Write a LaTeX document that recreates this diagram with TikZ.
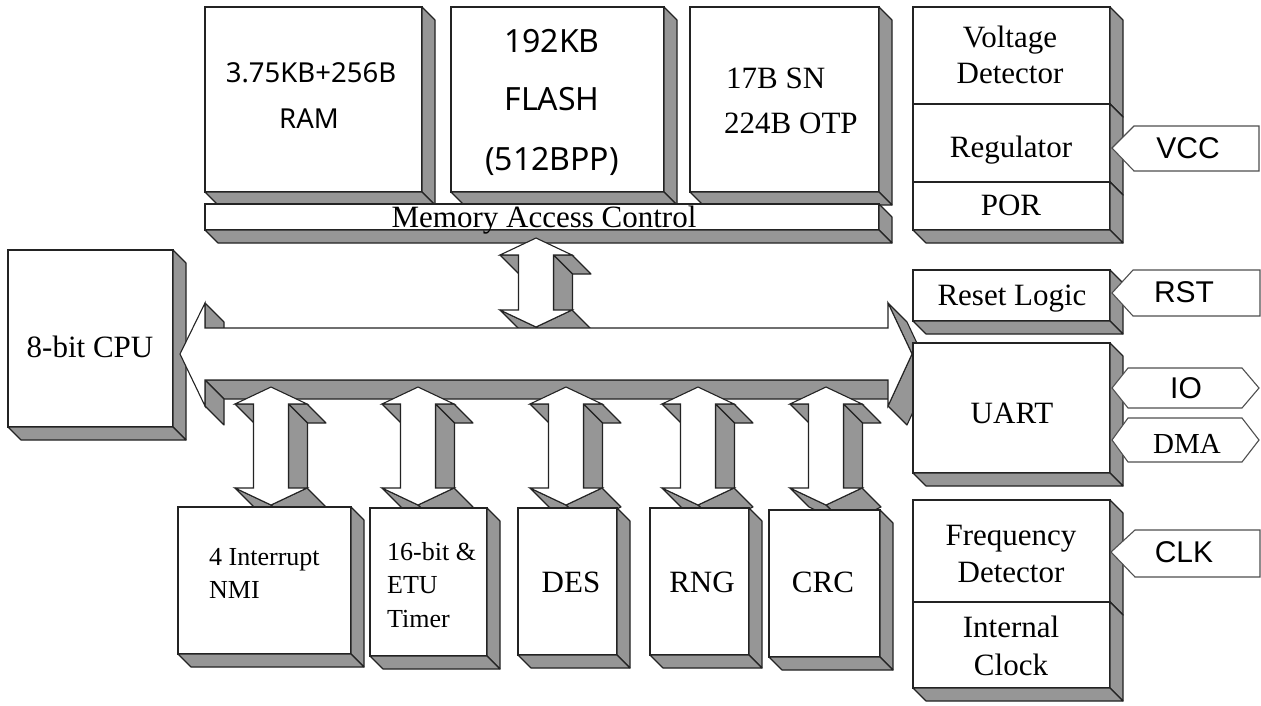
\documentclass[tikz,border=0pt]{standalone}
\usepackage{fontspec}
\setmainfont{Liberation Serif}
\newfontfamily\tagsans{Liberation Sans}
\newfontfamily\memsans{Noto Sans}
\definecolor{shd}{RGB}{150,150,150}
\definecolor{edgec}{RGB}{35,35,35}
\def\bd{13}
\def\dep{19}
\tikzset{
  blk/.style={draw=edgec, line width=1.1pt, fill=white, inner sep=0pt, outer sep=0pt, anchor=north west},
  sideface/.style={draw=edgec, line width=1.1pt, fill=shd, line join=round},
  frontface/.style={draw=edgec, line width=1.1pt, fill=white, line join=miter},
  tagline/.style={draw=edgec!80, line width=1.1pt, fill=white},
  lbl/.style={inner sep=0pt, anchor=base, font=\fontsize{31}{36}\selectfont},
  lbls/.style={inner sep=0pt, anchor=base west, font=\fontsize{26}{30}\selectfont},
  tagtxt/.style={inner sep=0pt, anchor=base, font=\tagsans\fontsize{30}{34}\selectfont},
  memtxt/.style={inner sep=0pt, anchor=base, font=\memsans\fontsize{27.5}{32}\selectfont},
  flashtxt/.style={inner sep=0pt, anchor=base, font=\memsans\fontsize{32}{36}\selectfont},
}
% 3D block: name, x1, y1, x2, y2 (screen pixels)
\newcommand\blockbox[5]{%
  \node[blk, minimum width={#4-#2}, minimum height={#5-#3}] (#1) at (#2,#3) {};
  \filldraw[sideface] (#1.north east) -- ([shift={(\bd,\bd)}]#1.north east) -- ([shift={(\bd,\bd)}]#1.south east) -- (#1.south east) -- cycle;
  \filldraw[sideface] (#1.south west) -- (#1.south east) -- ([shift={(\bd,\bd)}]#1.south east) -- ([shift={(\bd,\bd)}]#1.south west) -- cycle;
}
% extruded side faces of a polygon listed clockwise on screen
\newcommand\sidefaces[3]{%
  \foreach \xx/\yy [remember=\xx as \px (initially #1), remember=\yy as \py (initially #2)] in {#3}{%
    \pgfmathsetmacro\fr{((\yy)-(\py))-((\xx)-(\px))}%
    \ifdim\fr pt>0.01pt
      \filldraw[sideface] (\px,\py) -- (\xx,\yy) -- (\xx+\dep,\yy+\dep) -- (\px+\dep,\py+\dep) -- cycle;
    \fi
  }%
}
\newcommand\vdarrow[3]{%
  \sidefaces{#1}{#2}{#1+36/#2+17,#1+17.5/#2+17,#1+17.5/#3-17,#1+36/#3-17,#1/#3,#1-36/#3-17,#1-17.5/#3-17,#1-17.5/#2+17,#1-36/#2+17,#1/#2}%
  \filldraw[frontface] (#1,#2) -- (#1+36,#2+17) -- (#1+17.5,#2+17) -- (#1+17.5,#3-17) -- (#1+36,#3-17) -- (#1,#3) -- (#1-36,#3-17) -- (#1-17.5,#3-17) -- (#1-17.5,#2+17) -- (#1-36,#2+17) -- cycle;
}
\begin{document}
\begin{tikzpicture}[x=1pt,y=-1pt]
\useasboundingbox (0,0) rectangle (1261,705);
\fill[white] (0,0) rectangle (1261,705);

% top memory blocks
\blockbox{ram}{205}{7}{422}{192}
\blockbox{flash}{451}{7}{664}{192}
\blockbox{otp}{690}{7}{879}{192}
\blockbox{macbar}{205}{204}{879}{230}

% right column top
\blockbox{volt}{913}{7}{1110}{104}
\blockbox{reg}{913}{104}{1110}{182}
\blockbox{por}{913}{182}{1110}{230}

% CPU
\blockbox{cpu}{8}{250}{173}{427}

% memory arrow
\vdarrow{536}{238}{327}

% bus
\sidefaces{888}{380}{205/380,205/406,180/354,205/303,205/328,888/328,888/303,912/354,888/406,888/380}
\filldraw[frontface] (180,354) -- (205,303) -- (205,328) -- (888,328) -- (888,303) -- (912,354) -- (888,406) -- (888,380) -- (205,380) -- (205,406) -- cycle;

% right column lower
\blockbox{rstl}{913}{270}{1110}{321}
\blockbox{uart}{913}{343}{1110}{473}
\blockbox{freq}{913}{500}{1110}{602}
\blockbox{iclk}{913}{602}{1110}{688}

% bottom arrows
\vdarrow{271}{387}{505}
\vdarrow{418}{387}{505}
\vdarrow{566}{387}{505}
\vdarrow{698}{387}{505}
\vdarrow{826}{387}{505}

% bottom blocks
\blockbox{intr}{178}{507}{351}{654}
\blockbox{timer}{370}{508}{487}{656}
\blockbox{des}{518}{508}{617}{655}
\blockbox{rng}{650}{508}{749}{655}
\blockbox{crc}{769}{510}{880}{657}

% pin tags
\draw[tagline] (1112,148) -- (1134,126) -- (1259,126) -- (1259,171) -- (1134,171) -- cycle;
\draw[tagline] (1112,293) -- (1133,270) -- (1260,270) -- (1260,316) -- (1133,316) -- cycle;
\draw[tagline] (1112,388) -- (1128,368) -- (1242,368) -- (1259,388) -- (1242,408) -- (1128,408) -- cycle;
\draw[tagline] (1112,440) -- (1128,418) -- (1242,418) -- (1259,440) -- (1242,462) -- (1128,462) -- cycle;
\draw[tagline] (1111,552) -- (1135,530) -- (1260,530) -- (1260,577) -- (1135,577) -- cycle;

% texts
\node[memtxt] (ramA) at (311,82) {3.75KB+256B};
\node[memtxt] (ramB) at (309,128) {RAM};
\node[flashtxt] (flA) at (552,52) {192KB};
\node[flashtxt] (flB) at (552,110) {FLASH};
\node[flashtxt] (flC) at (552,170) {(512BPP)};
\node[lbl, anchor=base west] (otpA) at (726,88) {17B SN};
\node[lbl, anchor=base west] (otpB) at (724,133) {224B OTP};
\node[lbl] (macT) at (544,227) {Memory Access Control};
\node[lbl] (voltA) at (1010,47) {Voltage};
\node[lbl] (voltB) at (1010,83) {Detector};
\node[lbl] (regT) at (1011,157) {Regulator};
\node[lbl] (porT) at (1011,215) {POR};
\node[lbl] (cpuT) at (90,357) {8-bit CPU};
\node[lbl] (rstlT) at (1012,305) {Reset Logic};
\node[lbl] (uartT) at (1012,423) {UART};
\node[lbl] (freqA) at (1011,545) {Frequency};
\node[lbl] (freqB) at (1011,582) {Detector};
\node[lbl] (iclkA) at (1011,637) {Internal};
\node[lbl] (iclkB) at (1011,675) {Clock};
\node[lbl] (desT) at (571,592) {DES};
\node[lbl] (rngT) at (702,592) {RNG};
\node[lbl] (crcT) at (823,592) {CRC};
\node[lbls] (intrA) at (209,565) {4 Interrupt};
\node[lbls] (intrB) at (209,598) {NMI};
\node[lbls] (timA) at (387,560) {16-bit \&};
\node[lbls] (timB) at (387,593) {ETU};
\node[lbls] (timC) at (387,627) {Timer};
\node[tagtxt] (vccT) at (1188,158) {VCC};
\node[tagtxt] (rstT) at (1184,302) {RST};
\node[tagtxt] (ioT) at (1186,398) {IO};
\node[lbl, font=\fontsize{29}{33}\selectfont] (dmaT) at (1187,453) {DMA};
\node[tagtxt] (clkT) at (1184,562) {CLK};
\end{tikzpicture}
\end{document}
